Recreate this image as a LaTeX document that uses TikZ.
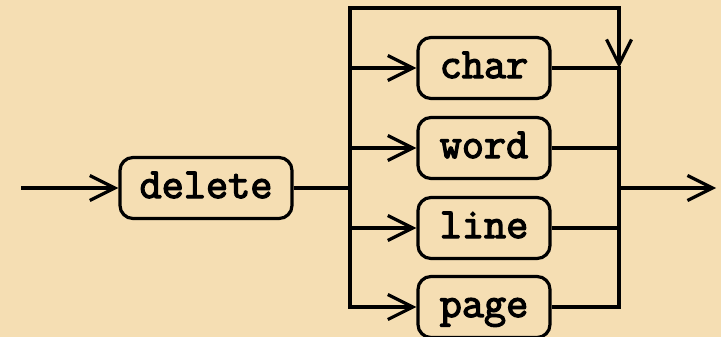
\documentclass[tikz,border=0pt]{standalone}
\usepackage{fontspec}
\newfontfamily\kwfont[FakeBold=3]{Latin Modern Mono}
\usetikzlibrary{arrows.meta}
\definecolor{bg}{RGB}{245,222,179}
\begin{document}
\begin{tikzpicture}[x=1pt,y=-1pt,
  line width=3.2pt,
  kw/.style={draw, rounded corners=13pt, minimum width=132pt, minimum height=61pt,
    inner sep=0pt, text height=20pt, text depth=0pt,
    font=\kwfont\fontsize{43}{43}\selectfont},
  arr/.style={-{Straight Barb[length=25pt,width=25pt,line width=3.2pt]}},
  arrs/.style={{Straight Barb[length=25pt,width=25pt,line width=3.2pt]}-{Straight Barb[length=25pt,width=25pt,line width=3.2pt]}}]
  \fill[bg] (0,0) rectangle (721,337);
  \useasboundingbox (0,0) rectangle (721,337);

  % keyword boxes
  \node[kw, minimum width=172pt] (delete) at (206,188) {delete};
  \node[kw] (char) at (484,68) {char};
  \node[kw] (word) at (484,148) {word};
  \node[kw] (line) at (484,228) {line};
  \node[kw] (page) at (484,307) {page};

  % branch points
  \coordinate (start) at (21,188);
  \coordinate (stop) at (716,188);
  \coordinate (tl) at (350,8);
  \coordinate (tr) at (619,8);

  % entry
  \draw[arr] (start) -- (delete);
  \draw (delete.east) -- (tl |- delete.east);

  % bypass loop and left rail down to the last choice
  \draw[arrs] (tr |- char.east) -- (tr) -- (tl) -- (tl |- page.west) -- (page.west);
  \draw[arr] (tl |- char.west) -- (char.west);
  \draw[arr] (tl |- word.west) -- (word.west);
  \draw[arr] (tl |- line.west) -- (line.west);

  % right rail
  \draw (page.east) -- (tr |- page.east) -- (tr |- char.east) -- (char.east);
  \draw (word.east) -- (tr |- word.east);
  \draw (line.east) -- (tr |- line.east);

  % exit
  \draw[arr] (tr |- stop) -- (stop);
\end{tikzpicture}
\end{document}
